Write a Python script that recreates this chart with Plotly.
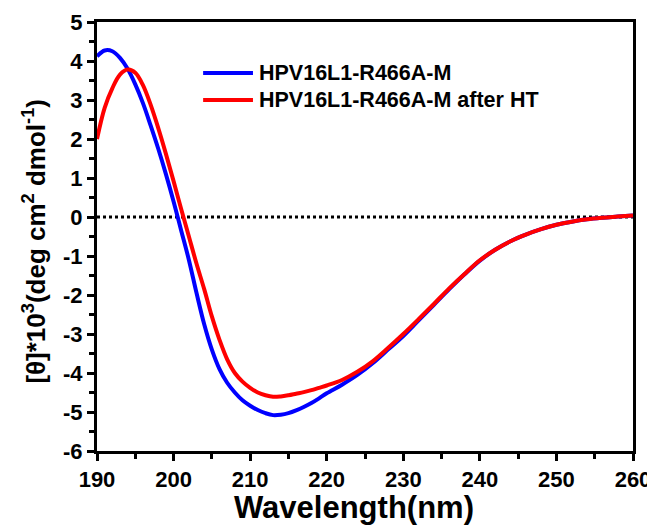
import plotly.graph_objects as go

wavelength = [190, 191, 192, 193, 194, 195, 196, 197, 198, 199, 200, 201, 202, 203, 204,
              205, 206, 207, 208, 209, 210, 211, 212, 213, 214, 215, 216, 217, 218, 219,
              220, 222, 224, 226, 228, 230, 232, 234, 236, 238, 240, 242, 244, 246, 248,
              250, 252, 254, 256, 258, 260]

blue = [4.12, 4.27, 4.25, 4.08, 3.8, 3.4, 2.92, 2.35, 1.75, 1.1, 0.4, -0.35, -1.1, -1.95, -2.75,
        -3.4, -3.9, -4.25, -4.5, -4.7, -4.84, -4.95, -5.03, -5.08, -5.07, -5.03, -4.96, -4.87, -4.77, -4.65,
        -4.52, -4.3, -4.05, -3.75, -3.4, -3.05, -2.65, -2.25, -1.85, -1.47, -1.12, -0.84, -0.62, -0.45, -0.31,
        -0.2, -0.12, -0.06, -0.02, 0.01, 0.04]

red = [2.0, 2.8, 3.3, 3.65, 3.78, 3.7, 3.38, 2.88, 2.28, 1.62, 0.92, 0.2, -0.5, -1.2, -1.85,
       -2.55, -3.15, -3.65, -4.0, -4.22, -4.38, -4.5, -4.57, -4.61, -4.6, -4.57, -4.53, -4.49, -4.44, -4.38,
       -4.32, -4.18, -3.97, -3.7, -3.36, -3.0, -2.62, -2.23, -1.83, -1.46, -1.11, -0.84, -0.62, -0.45, -0.31,
       -0.2, -0.12, -0.06, -0.02, 0.01, 0.04]

names = ["HPV16L1-R466A-M", "HPV16L1-R466A-M after HT"]
colors = ["#0000FF", "#FF0000"]
zero_x = [190, 260]
zero_y = [0, 0]

x_ticks = [190, 200, 210, 220, 230, 240, 250, 260]
y_ticks = [-6, -5, -4, -3, -2, -1, 0, 1, 2, 3, 4, 5]
y_labels = [str(v) for v in y_ticks]

x_title = "Wavelength(nm)"
y_title = "[θ]*10<sup>3</sup>(deg cm<sup>2</sup> dmol<sup>-1</sup>)"

font_family = "Liberation Sans, Arial, sans-serif"

fig = go.Figure()
fig.add_trace(go.Scatter(x=zero_x, y=zero_y, mode="lines", showlegend=False,
                         line=dict(color="black", width=3, dash="dot"), hoverinfo="skip"))
for name, col, ys in zip(names, colors, [blue, red]):
    fig.add_trace(go.Scatter(x=wavelength, y=ys, mode="lines", name=name, showlegend=False,
                             line=dict(color=col, width=4, shape="spline", smoothing=1.0)))

# manual legend
leg_y = [0.881, 0.818]
for name, col, ly in zip(names, colors, leg_y):
    fig.add_shape(type="line", xref="paper", yref="paper", x0=0.198, x1=0.291, y0=ly, y1=ly,
                  line=dict(color=col, width=4))
    fig.add_annotation(xref="paper", yref="paper", x=0.299, y=ly, xanchor="left", yanchor="middle",
                       text="<b>" + name + "</b>", showarrow=False,
                       font=dict(family=font_family, size=21.5, color="black"))

# axis titles
fig.add_annotation(xref="paper", yref="paper", x=0.48, y=-0.132, xanchor="center", yanchor="middle",
                   text="<b>" + x_title + "</b>", showarrow=False, borderpad=0,
                   font=dict(family=font_family, size=31, color="black"))
fig.add_annotation(xref="paper", yref="paper", x=-0.116, y=0.49, xanchor="center", yanchor="middle",
                   text="<b>" + y_title + "</b>", showarrow=False, textangle=-90,
                   font=dict(family=font_family, size=26, color="black"))

axis_common = dict(showline=True, linecolor="black", linewidth=3, mirror=True,
                   ticks="outside", tickwidth=3, ticklen=7, tickcolor="black",
                   showgrid=False, zeroline=False, automargin=False,
                   tickfont=dict(family=font_family, size=22, color="black", weight="bold"))

fig.update_layout(
    width=647, height=517,
    margin=dict(l=89, r=22, t=14, b=74),
    paper_bgcolor="white", plot_bgcolor="white",
    font=dict(family=font_family, color="black"),
    xaxis=dict(range=[190, 260], tickvals=x_ticks,
               minor=dict(dtick=5, tick0=190, ticks="outside", ticklen=5, tickwidth=3, tickcolor="black"),
               **axis_common),
    yaxis=dict(range=[-6, 5], tickvals=y_ticks, ticktext=y_labels,
               minor=dict(dtick=0.5, tick0=0, ticks="outside", ticklen=5, tickwidth=3, tickcolor="black"),
               **axis_common),
)

fig.write_html("out.html")
